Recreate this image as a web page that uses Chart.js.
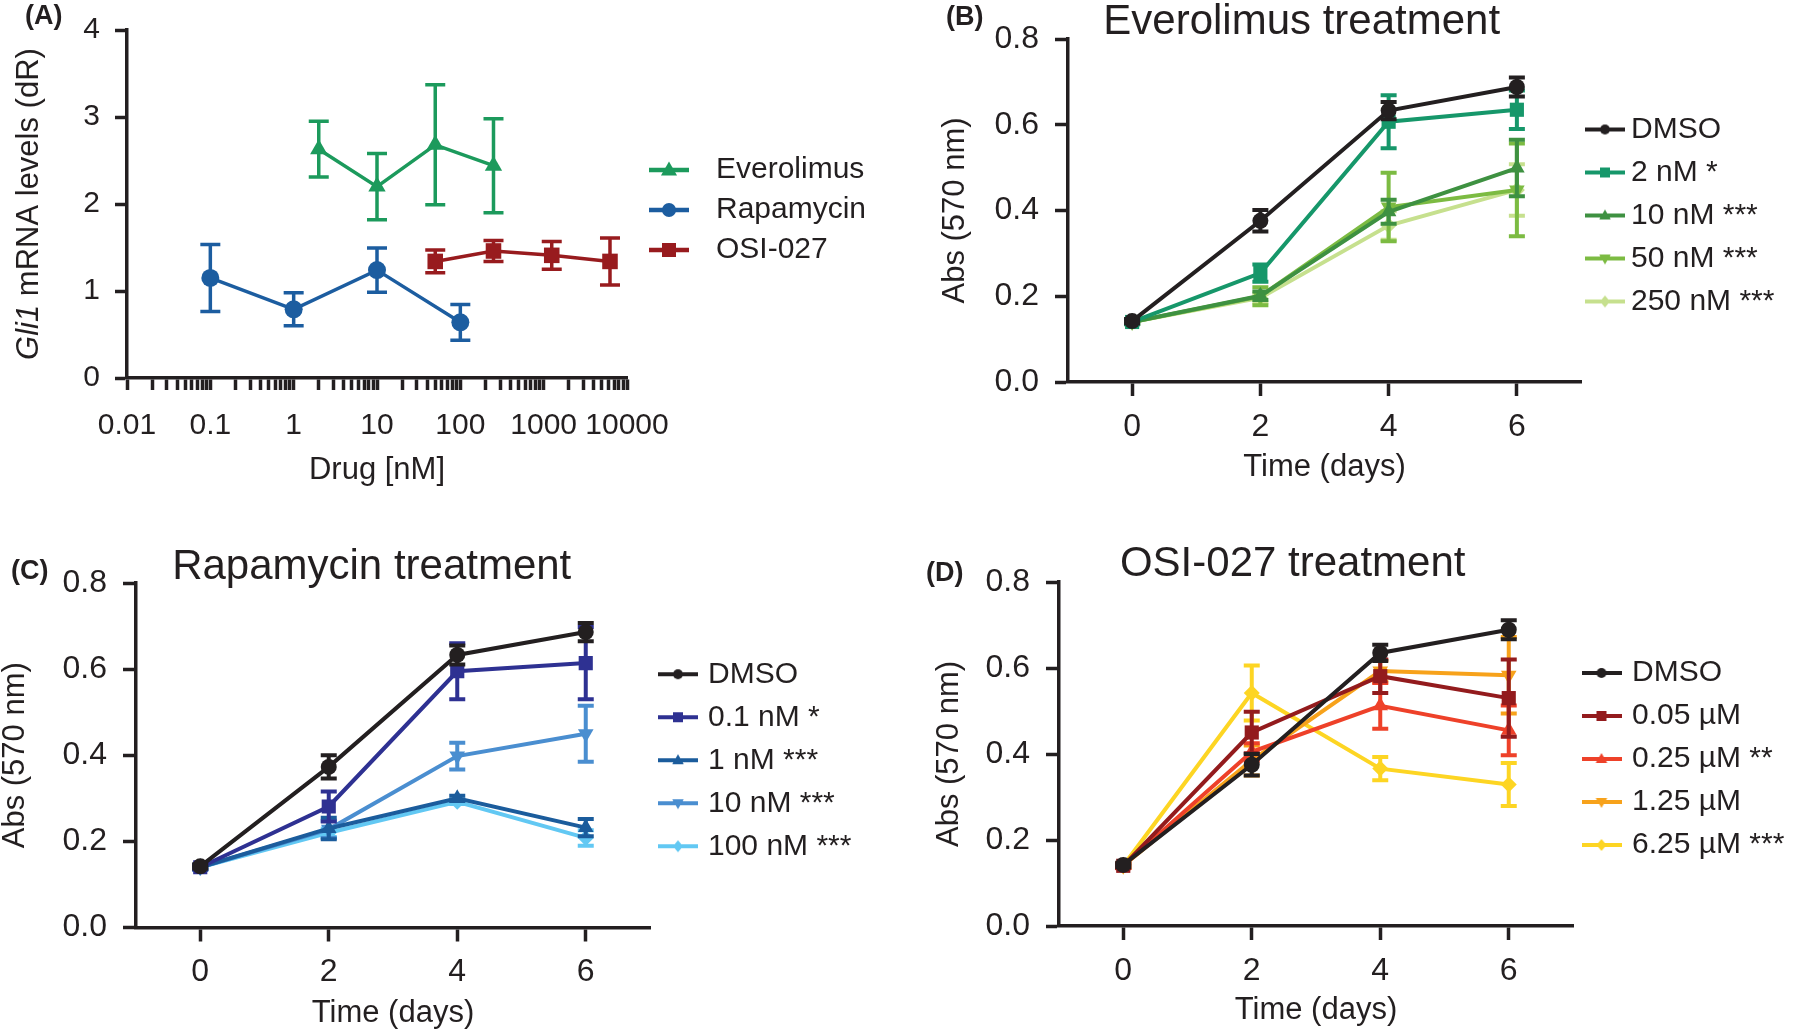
<!DOCTYPE html>
<html>
<head>
<meta charset="utf-8">
<script src="https://cdn.jsdelivr.net/npm/chart.js@4.4.1/dist/chart.umd.min.js"></script>
<style>
  body { margin: 0; background: #fff; width: 1800px; height: 1029px; position: relative; overflow: hidden; }
  canvas { position: absolute; }
  .tag { position: absolute; z-index: 2; font: bold 27px "Liberation Sans", Arial, sans-serif; line-height: 27px; color: #231f20; }
</style>
</head>
<body>
<div class="tag" style="left:25px;top:2px">(A)</div>
<div class="tag" style="left:946px;top:3px">(B)</div>
<div class="tag" style="left:11px;top:557px">(C)</div>
<div class="tag" style="left:926px;top:559px">(D)</div>
<script>
// ---- data ----
// (A) Gli1 mRNA vs drug dose (nM)
const everoDose = [2, 10, 50, 250];
const everoGli1 = [2.63, 2.2, 2.68, 2.44];
const everoErr = [0.32, 0.38, 0.69, 0.54];
const rapaDose = [0.1, 1, 10, 100];
const rapaGli1 = [1.15, 0.79, 1.24, 0.64];
const rapaErr = [0.385, 0.19, 0.255, 0.205];
const osiDose = [50, 250, 1250, 6250];
const osiGli1 = [1.34, 1.46, 1.41, 1.34];
const osiErr = [0.13, 0.12, 0.16, 0.27];
const doseTickLabels = ['0.01', '0.1', '1', '10', '100', '1000', '10000'];
const gli1Ticks = [0, 1, 2, 3, 4];

// (B)-(D) absorbance over time
const days = [0, 2, 4, 6];
const dayTicks = [0, 2, 4, 6];
const absTicks = [0, 0.2, 0.4, 0.6, 0.8];

const evLabels = ['DMSO', '2 nM *', '10 nM ***', '50 nM ***', '250 nM ***'];
const evMeans = [
  [0.142, 0.376, 0.633, 0.688],
  [0.140, 0.254, 0.607, 0.635],
  [0.140, 0.201, 0.397, 0.499],
  [0.140, 0.200, 0.408, 0.448],
  [0.140, 0.196, 0.365, 0.448]
];
const evErrs = [
  [0.005, 0.025, 0.020, 0.022],
  [0.005, 0.020, 0.062, 0.045],
  [0.005, 0.010, 0.028, 0.066],
  [0.005, 0.021, 0.080, 0.108],
  [0.005, 0.010, 0.033, 0.060]
];

const rapLabels = ['DMSO', '0.1 nM *', '1 nM ***', '10 nM ***', '100 nM ***'];
const rapMeans = [
  [0.142, 0.373, 0.633, 0.686],
  [0.140, 0.281, 0.595, 0.614],
  [0.140, 0.230, 0.300, 0.232],
  [0.140, 0.228, 0.398, 0.450],
  [0.140, 0.220, 0.292, 0.208]
];
const rapErrs = [
  [0.005, 0.027, 0.022, 0.021],
  [0.005, 0.035, 0.065, 0.084],
  [0.005, 0.025, 0.006, 0.020],
  [0.005, 0.020, 0.031, 0.065],
  [0.005, 0.010, 0.005, 0.018]
];

const osiLabels = ['DMSO', '0.05 µM', '0.25 µM **', '1.25 µM', '6.25 µM ***'];
const osiMeans = [
  [0.142, 0.375, 0.635, 0.689],
  [0.140, 0.450, 0.581, 0.530],
  [0.140, 0.405, 0.512, 0.455],
  [0.140, 0.385, 0.593, 0.583],
  [0.140, 0.542, 0.366, 0.329]
];
const osiErrs = [
  [0.005, 0.025, 0.019, 0.022],
  [0.005, 0.048, 0.039, 0.090],
  [0.005, 0.020, 0.053, 0.058],
  [0.005, 0.035, 0.025, 0.089],
  [0.005, 0.064, 0.027, 0.050]
];

// ---- styles ----
const FONT = '"Liberation Sans", Arial, Helvetica, sans-serif';
const ink = '#231f20';
Chart.defaults.font.family = FONT;
Chart.defaults.color = ink;

const markers = ['circle', 'rect', 'triangle', 'triangle', 'rectRot'];
const markerRot = [0, 0, 0, 180, 0];
const markerR = {circle: 8, rect: 10, triangle: 9, rectRot: 8};
const evColors = [ink, '#16976a', '#3e9141', '#7cbb42', '#c6e08e'];
const rapColors = [ink, '#2e3192', '#1b5c9c', '#4a8ed0', '#62c8f3'];
const osiColors = [ink, '#931b1d', '#ee4129', '#f7a21b', '#fdd523'];
const LEG_FONT = 30;

function drawMarker(g, style, rot, x, y, r) {
  g.beginPath();
  if (style === 'circle') g.arc(x, y, r, 0, Math.PI * 2);
  else if (style === 'rect') g.rect(x - r, y - r, 2 * r, 2 * r);
  else if (style === 'rectRot') { g.moveTo(x, y - r * 1.2); g.lineTo(x + r, y); g.lineTo(x, y + r * 1.2); g.lineTo(x - r, y); }
  else {
    const s = rot ? -1 : 1;
    g.moveTo(x, y - s * r * 1.2); g.lineTo(x + r * 1.15, y + s * r * 0.8); g.lineTo(x - r * 1.15, y + s * r * 0.8);
  }
  g.closePath();
  g.fill();
}

function legendIcon(color, style, rot, r, lw) {
  const c = document.createElement('canvas');
  c.width = 40; c.height = 20;
  const g = c.getContext('2d');
  g.strokeStyle = color; g.fillStyle = color; g.lineWidth = lw;
  g.beginPath(); g.moveTo(0, 10); g.lineTo(40, 10); g.stroke();
  drawMarker(g, style, rot, 20, 10, r);
  return c;
}

function pts(xs, ys) {
  return xs.map((x, i) => ({x: x, y: ys[i]}));
}

function series(label, xs, ys, errs, color, k, big) {
  const style = markers[k];
  return {
    label: label,
    data: pts(xs, ys),
    errors: errs,
    capHalf: big ? 10 : 8,
    borderColor: color,
    backgroundColor: color,
    borderWidth: big ? 3.5 : 4,
    pointStyle: style,
    pointRotation: markerRot[k],
    pointRadius: markerR[style] + (big ? 1 : 0),
    pointBackgroundColor: color,
    pointBorderColor: color,
    pointBorderWidth: 0,
    icon: legendIcon(color, style, markerRot[k], big ? 7 : 5, big ? 4.5 : 4),
    tension: 0
  };
}

// error bars drawn through the chart scales
const errorBars = {
  id: 'errorBars',
  beforeDatasetDraw(chart, args) {
    const ds = chart.data.datasets[args.index];
    if (!ds.errors) return;
    const ctx = chart.ctx;
    const xs = chart.scales.x, ys = chart.scales.y;
    const cap = ds.capHalf;
    ctx.save();
    ctx.strokeStyle = ds.borderColor;
    ctx.lineWidth = ds.borderWidth;
    ds.data.forEach((p, i) => {
      const e = ds.errors[i];
      const x = xs.getPixelForValue(p.x);
      const yT = ys.getPixelForValue(p.y + e);
      const yB = ys.getPixelForValue(p.y - e);
      ctx.beginPath();
      ctx.moveTo(x, yT); ctx.lineTo(x, yB);
      ctx.moveTo(x - cap, yT); ctx.lineTo(x + cap, yT);
      ctx.moveTo(x - cap, yB); ctx.lineTo(x + cap, yB);
      ctx.stroke();
    });
    ctx.restore();
  }
};

// y title of panel A with italic gene name
function gliTitle(x) {
  return {
    id: 'gliTitle',
    afterDraw(chart) {
      const {ctx, chartArea} = chart;
      const parts = [['italic 31px ' + FONT, 'Gli1'], ['31px ' + FONT, ' mRNA levels (dR)']];
      ctx.save();
      ctx.translate(x, (chartArea.top + chartArea.bottom) / 2);
      ctx.rotate(-Math.PI / 2);
      let total = 0;
      parts.forEach(p => { ctx.font = p[0]; total += ctx.measureText(p[1]).width; });
      let pos = -total / 2;
      ctx.fillStyle = ink;
      ctx.textBaseline = 'middle';
      parts.forEach(p => { ctx.font = p[0]; ctx.fillText(p[1], pos, 0); pos += ctx.measureText(p[1]).width; });
      ctx.restore();
    }
  };
}

function axisStyle(tickLen) {
  return {
    grid: {display: true, drawOnChartArea: false, drawTicks: true, tickLength: tickLen, tickWidth: 3.5, tickColor: ink, color: ink},
    border: {display: true, color: ink, width: 3.5}
  };
}

function dayAxis(xH) {
  return Object.assign({
    type: 'linear', min: -1, max: 7,
    afterBuildTicks: s => { s.ticks = dayTicks.map(v => ({value: v})); },
    afterFit: s => { s.height = xH; },
    ticks: {autoSkip: false, maxRotation: 0, padding: 15, color: ink, font: {size: 32, lineHeight: 1}, callback: v => String(v)},
    title: {display: true, text: 'Time (days)', color: ink, font: {size: 31, lineHeight: 1}, padding: 0}
  }, axisStyle(14));
}

function absAxis(yW, titlePad) {
  return Object.assign({
    type: 'linear', min: 0, max: 0.8,
    afterBuildTicks: s => { s.ticks = absTicks.map(v => ({value: v})); },
    afterFit: s => { s.width = yW; },
    ticks: {padding: 16, color: ink, font: {size: 32, lineHeight: 1}, callback: v => v.toFixed(1)},
    title: {display: true, text: 'Abs (570 nm)', color: ink, font: {size: 31, lineHeight: 1}, padding: {top: titlePad, bottom: 0}}
  }, axisStyle(13));
}

function doseAxis(xH) {
  return Object.assign({
    type: 'logarithmic', min: 0.01, max: 10000,
    afterBuildTicks: s => {
      const t = [];
      for (let d = -2; d <= 4; d++) {
        for (let k = 1; k <= (d === 4 ? 1 : 9); k++) t.push({value: k * Math.pow(10, d), major: k === 1});
      }
      s.ticks = t;
    },
    afterFit: s => { s.height = xH; },
    ticks: {
      autoSkip: false, maxRotation: 0, padding: 21, color: ink, font: {size: 30, lineHeight: 1},
      callback: (v, i, t) => t[i].major ? doseTickLabels[Math.round(Math.log10(v)) + 2] : ''
    },
    title: {display: true, text: 'Drug [nM]', color: ink, font: {size: 31, lineHeight: 1}, padding: 0}
  }, axisStyle(12));
}

function gliAxis(yW) {
  return Object.assign({
    type: 'linear', min: 0, max: 4,
    afterBuildTicks: s => { s.ticks = gli1Ticks.map(v => ({value: v})); },
    afterFit: s => { s.width = yW; },
    ticks: {padding: 15, color: ink, font: {size: 30, lineHeight: 1}, callback: v => String(v)},
    title: {display: false}
  }, axisStyle(12));
}

// work out canvas box so that the plot area, legend and title land where wanted
function panel(p) {
  const m = document.createElement('canvas').getContext('2d');
  m.font = LEG_FONT + 'px ' + FONT;
  const textW = Math.max(...p.labels.map(t => m.measureText(t).width));
  const pw = p.legendTextX - p.right - p.legendPad - LEG_FONT / 2;
  const legendW = p.legendPad + pw + LEG_FONT / 2 + textW + 10;
  const R = Math.ceil(p.right + legendW + 2);
  const L = p.title ? Math.floor(2 * p.title.x - p.right - legendW) : p.left0;
  const H = Math.round(p.xTitleY + 15.5 - p.top0);
  const xH = p.top0 + H - p.bottom;
  const yW = p.left - L;
  const lh = 42 * 0.8;

  const cv = document.createElement('canvas');
  cv.width = R - L;
  cv.height = H;
  cv.style.left = L + 'px';
  cv.style.top = p.top0 + 'px';
  document.body.insertBefore(cv, document.body.firstChild);

  const padR = cv.width - (p.right - L) - legendW;
  const tTop = p.title ? p.title.y - p.top0 - lh / 2 : 0;
  const title = p.title ? {
    display: true, text: p.title.text, color: ink,
    font: {size: 42, weight: 'normal', lineHeight: 0.8},
    padding: {top: tTop, bottom: (p.top - p.top0) - lh - tTop}
  } : {display: false};

  const scales = p.log
    ? {x: doseAxis(xH), y: gliAxis(yW)}
    : {x: dayAxis(xH), y: absAxis(yW, p.yTitleX - L - 15.5)};

  return new Chart(cv, {
    type: 'line',
    data: {datasets: p.datasets},
    options: {
      responsive: false, animation: false, devicePixelRatio: 1, events: [],
      layout: {padding: {left: 0, right: padR, top: p.title ? 0 : p.top - p.top0, bottom: 0}},
      scales: scales,
      plugins: {
        tooltip: {enabled: false},
        title: title,
        legend: {
          position: 'right', fullSize: false, align: 'center',
          // empty legend title only nudges the entries down a little
          title: {display: true, text: ' ', font: {size: p.legendShift, lineHeight: 1}, padding: 0},
          labels: {
            usePointStyle: true, pointStyleWidth: pw, padding: p.legendPad, color: ink,
            font: {size: LEG_FONT, lineHeight: 1},
            generateLabels: chart => chart.data.datasets.map((ds, i) => ({
              text: ds.label, pointStyle: ds.icon, rotation: 0,
              fillStyle: ds.borderColor, strokeStyle: ds.borderColor, lineWidth: 0,
              fontColor: ink, hidden: false, datasetIndex: i
            }))
          }
        }
      }
    },
    plugins: [errorBars].concat(p.log ? [gliTitle(p.yTitleX - L)] : [])
  });
}

// ---- (A) ----
const aLabels = ['Everolimus', 'Rapamycin', 'OSI-027'];
panel({
  log: true, labels: aLabels,
  datasets: [
    series(aLabels[0], everoDose, everoGli1, everoErr, '#1c9a5c', 2, true),
    series(aLabels[1], rapaDose, rapaGli1, rapaErr, '#1c5da0', 0, true),
    series(aLabels[2], osiDose, osiGli1, osiErr, '#981b1e', 1, true)
  ],
  left0: -300, left: 127, right: 627, top: 30, bottom: 378, top0: 0,
  xTitleY: 470, yTitleX: 29, legendPad: 10, legendTextX: 716, legendShift: 12
});

// ---- (B) ----
panel({
  labels: evLabels,
  datasets: evLabels.map((l, k) => series(l, days, evMeans[k], evErrs[k], evColors[k], k, false)),
  left: 1068, right: 1581, top: 39, bottom: 382, top0: 0,
  xTitleY: 467, yTitleX: 955, legendPad: 13, legendTextX: 1631, legendShift: 10,
  title: {text: 'Everolimus treatment', x: 1302, y: 22}
});

// ---- (C) ----
panel({
  labels: rapLabels,
  datasets: rapLabels.map((l, k) => series(l, days, rapMeans[k], rapErrs[k], rapColors[k], k, false)),
  left: 136, right: 650, top: 583, bottom: 927.5, top0: 530,
  xTitleY: 1013, yTitleX: 15.5, legendPad: 13, legendTextX: 708, legendShift: 10,
  title: {text: 'Rapamycin treatment', x: 372, y: 567}
});

// ---- (D) ----
panel({
  labels: osiLabels,
  datasets: osiLabels.map((l, k) => series(l, days, osiMeans[k], osiErrs[k], osiColors[k], k, false)),
  left: 1059, right: 1573, top: 582, bottom: 926, top0: 530,
  xTitleY: 1010, yTitleX: 949, legendPad: 13, legendTextX: 1632, legendShift: 10,
  title: {text: 'OSI-027 treatment', x: 1293, y: 564.5}
});
</script>
</body>
</html>
